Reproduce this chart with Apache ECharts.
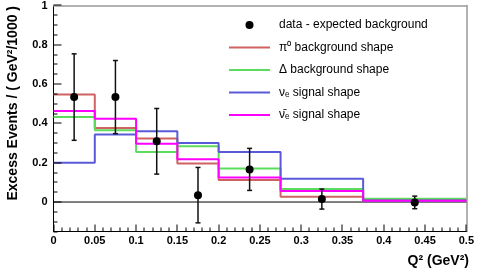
<!DOCTYPE html>
<html>
<head>
<meta charset="utf-8">
<script src="https://cdn.jsdelivr.net/npm/echarts@6/dist/echarts.min.js"></script>
<style>html,body{margin:0;padding:0;background:#fff}#c{width:477px;height:270px}</style>
</head>
<body>
<div id="c"></div>
<script>
// Bin edges (Q^2, GeV^2)
var binEdges = [0, 0.05, 0.1, 0.15, 0.2, 0.275, 0.375, 0.5];
// Data points: x (bin centre), y, error
var dataX = [0.025, 0.075, 0.125, 0.175, 0.2375, 0.325, 0.4375];
var dataY = [0.534, 0.534, 0.309, 0.035, 0.166, 0.015, -0.002];
var dataErr = [0.22, 0.186, 0.167, 0.141, 0.107, 0.051, 0.032];
// Histogram shapes (one value per bin)
var pi0Shape = [0.547, 0.377, 0.323, 0.196, 0.112, 0.027, 0.010];
var deltaShape = [0.432, 0.365, 0.255, 0.284, 0.171, 0.066, 0.017];
var nueShape = [0.200, 0.343, 0.360, 0.300, 0.255, 0.118, 0.008];
var nuebarShape = [0.463, 0.424, 0.297, 0.218, 0.125, 0.056, 0.007];
// Tick values
var yTicks = [0, 0.2, 0.4, 0.6, 0.8, 1];
var yMinorTicks = [-0.15, -0.1, -0.05, 0.05, 0.1, 0.15, 0.25, 0.3, 0.35, 0.45, 0.5, 0.55, 0.65, 0.7, 0.75, 0.85, 0.9, 0.95];
var xTicks = [0, 0.05, 0.1, 0.15, 0.2, 0.25, 0.3, 0.35, 0.4, 0.45, 0.5];
var xMinorTicks = [0.01, 0.02, 0.03, 0.04, 0.06, 0.07, 0.08, 0.09, 0.11, 0.12, 0.13, 0.14, 0.16, 0.17, 0.18, 0.19,
  0.21, 0.22, 0.23, 0.24, 0.26, 0.27, 0.28, 0.29, 0.31, 0.32, 0.33, 0.34, 0.36, 0.37, 0.38, 0.39,
  0.41, 0.42, 0.43, 0.44, 0.46, 0.47, 0.48, 0.49];
var names = ['data - expected background', 'π⁰ background shape', 'Δ background shape', 'νₑ signal shape', 'ν̄ₑ signal shape'];

var Y_MIN = -0.15, Y_MAX = 1, X_MIN = 0, X_MAX = 0.5;

function stepData(vals) {
  var d = [];
  for (var i = 0; i < vals.length; i++) d.push([binEdges[i], vals[i]]);
  d.push([binEdges[binEdges.length - 1], vals[vals.length - 1]]);
  return d;
}
function histSeries(name, vals, color) {
  return {
    name: name, type: 'line', step: 'end', data: stepData(vals),
    symbol: 'none', showSymbol: false,
    lineStyle: { color: color, width: 2 }, itemStyle: { color: color },
    emphasis: { disabled: true }, animation: false, z: 3
  };
}
var pts = dataX.map(function (x, i) { return [x, dataY[i], dataErr[i]]; });
// tick items: [x, y, kind(0 = x-axis tick, 1 = y-axis tick), length in px]
var tickItems = [];
xTicks.forEach(function (v) { tickItems.push([v, Y_MIN, 0, 7]); });
xMinorTicks.forEach(function (v) { tickItems.push([v, Y_MIN, 0, 4]); });
yTicks.forEach(function (v) { tickItems.push([X_MIN, v, 1, 8]); });
yMinorTicks.forEach(function (v) { tickItems.push([X_MIN, v, 1, 4]); });
var lineIcon = 'path://M0,0L41,0L41,2L0,2Z';

var font = 'Liberation Sans, Arial, Helvetica, sans-serif';
var chart = echarts.init(document.getElementById('c'), null, { renderer: 'canvas' });
chart.setOption({
  animation: false,
  backgroundColor: '#fff',
  grid: { left: 53.5, right: 7, top: 4.5, bottom: 38.5, show: false },
  legend: {
    orient: 'vertical', left: 229, top: 18, padding: 0, itemWidth: 41, itemHeight: 8, itemGap: 8.5,
    textStyle: { fontFamily: font, fontSize: 12, lineHeight: 14, color: '#000', padding: [0, 0, 0, 4] },
    data: [
      { name: names[0], icon: 'circle', itemStyle: { color: '#000' } },
      { name: names[1], icon: lineIcon },
      { name: names[2], icon: lineIcon },
      { name: names[3], icon: lineIcon },
      { name: names[4], icon: lineIcon }
    ]
  },
  xAxis: [{
    type: 'value', min: X_MIN, max: X_MAX, interval: 0.05, position: 'bottom',
    axisLine: { show: true, onZero: false, lineStyle: { color: '#000', width: 1 } },
    axisTick: { show: false },
    splitLine: { show: false },
    axisLabel: { fontFamily: font, fontSize: 11, fontWeight: 'bold', color: '#000', margin: 4,
      formatter: function (v) { return String(+v.toFixed(3)); } }
  }, {
    type: 'value', min: X_MIN, max: X_MAX, position: 'top',
    axisLine: { show: true, onZero: false, lineStyle: { color: '#999', width: 1.5 } },
    axisTick: { show: false }, axisLabel: { show: false }, splitLine: { show: false }
  }],
  yAxis: [{
    type: 'value', min: Y_MIN, max: Y_MAX, position: 'left',
    axisLine: { show: true, onZero: false, lineStyle: { color: '#000', width: 1 } },
    axisTick: { show: false },
    splitLine: { show: false },
    axisLabel: { customValues: yTicks, fontFamily: font, fontSize: 11, fontWeight: 'bold', color: '#000', margin: 6,
      formatter: function (v) { return String(+v.toFixed(2)); } }
  }, {
    type: 'value', min: Y_MIN, max: Y_MAX, position: 'right',
    axisLine: { show: true, onZero: false, lineStyle: { color: '#999', width: 1.5 } },
    axisTick: { show: false }, axisLabel: { show: false }, splitLine: { show: false }
  }],
  graphic: [
    { type: 'text', x: 13, y: 6, rotation: Math.PI / 2,
      style: { text: 'Excess Events / ( GeV²/1000 )', fontFamily: font, fontSize: 14, fontWeight: 'bold', fill: '#000', align: 'right', verticalAlign: 'middle' } },
    { type: 'text', x: 469, y: 261,
      style: { text: 'Q² (GeV²)', fontFamily: font, fontSize: 14, fontWeight: 'bold', fill: '#000', align: 'right', verticalAlign: 'middle' } }
  ],
  series: [
    {
      name: 'axis ticks', type: 'custom', data: tickItems, silent: true, clip: false, z: 20,
      encode: { x: 0, y: 1 },
      renderItem: function (params, api) {
        var p = api.coord([api.value(0), api.value(1)]);
        var kind = api.value(2), len = api.value(3);
        var shape = kind === 0
          ? { x: Math.round(p[0]) - 0.5, y: p[1] - len, width: 1, height: len }
          : { x: p[0], y: Math.round(p[1]) - 0.5, width: len, height: 1 };
        return { type: 'rect', shape: shape, style: { fill: '#000' } };
      }
    },
    {
      name: names[0], type: 'custom', data: pts, z: 10, itemStyle: { color: '#000' },
      encode: { x: 0, y: 1 },
      renderItem: function (params, api) {
        var x = api.value(0), y = api.value(1), e = api.value(2);
        var c = api.coord([x, y]);
        var top = api.coord([x, y + e]);
        var bot = api.coord([x, y - e]);
        var cap = 2.5;
        var ls = { stroke: '#111', lineWidth: 1.5 };
        return {
          type: 'group', children: [
            { type: 'line', shape: { x1: c[0], y1: top[1], x2: c[0], y2: bot[1] }, style: ls },
            { type: 'line', shape: { x1: c[0] - cap, y1: top[1], x2: c[0] + cap, y2: top[1] }, style: ls },
            { type: 'line', shape: { x1: c[0] - cap, y1: bot[1], x2: c[0] + cap, y2: bot[1] }, style: ls },
            { type: 'circle', shape: { cx: c[0], cy: c[1], r: 4 }, style: { fill: '#000' } }
          ]
        };
      }
    },
    histSeries(names[1], pi0Shape, '#d06262'),
    histSeries(names[2], deltaShape, '#5cdc5c'),
    histSeries(names[3], nueShape, '#5a5ad8'),
    histSeries(names[4], nuebarShape, '#ff00ff'),
    {
      name: 'zero', type: 'line', xAxisIndex: 1, yAxisIndex: 1, data: [[X_MIN, 0], [X_MAX, 0]], symbol: 'none', silent: true, z: 2,
      lineStyle: { color: '#000', width: 1 }
    }
  ]
});
</script>
</body>
</html>
